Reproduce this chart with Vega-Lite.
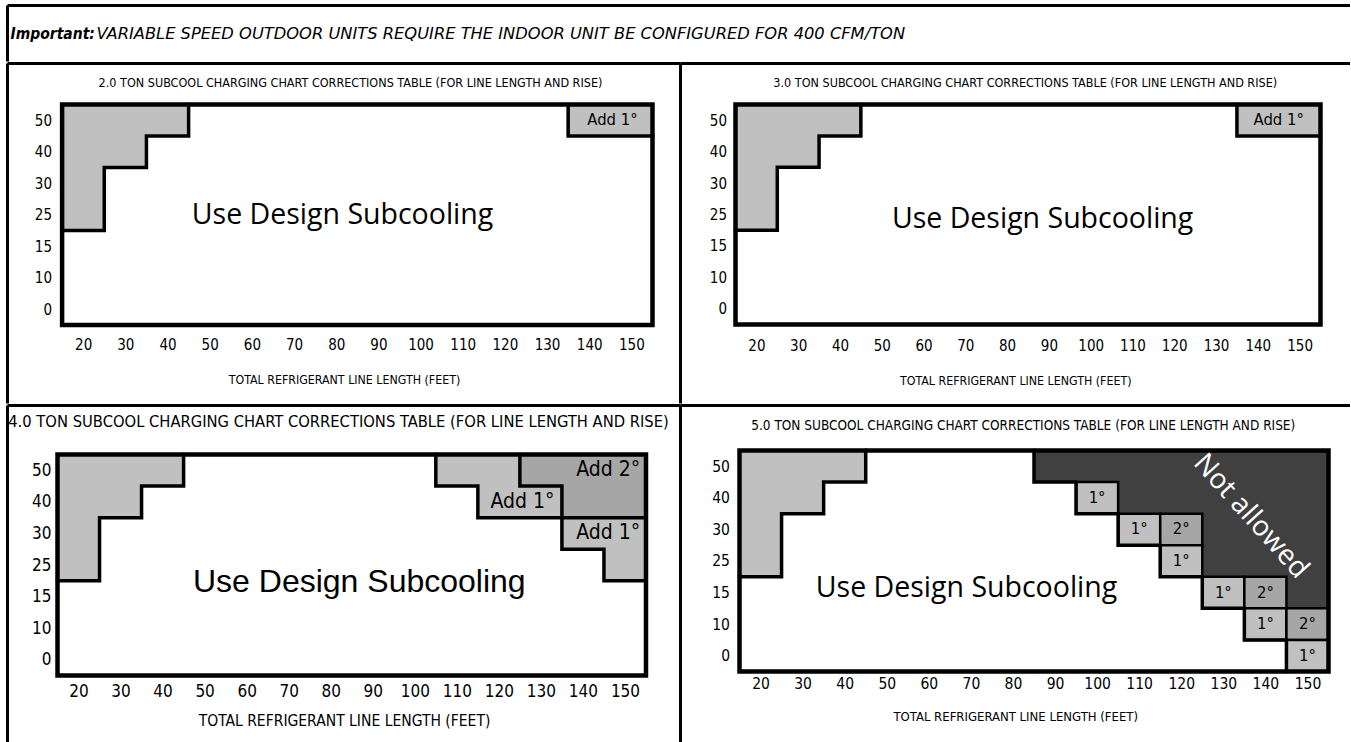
{
  "$schema": "https://vega.github.io/schema/vega-lite/v6.json",
  "padding": {"left": 5.5, "top": 3.5, "right": 0, "bottom": 0},
  "background": "white",
  "spacing": -3,
  "config": {"view": {"stroke": null}},
  "datasets": {
    "header": [{"bold": "Important:", "rest": "VARIABLE SPEED OUTDOOR UNITS REQUIRE THE INDOOR UNIT BE CONFIGURED FOR 400 CFM/TON"}],
    "regions": [
      {"panel": "2.0", "x1": 15, "x2": 45, "y1": 6, "y2": 7, "shade": "light"},
      {"panel": "2.0", "x1": 15, "x2": 35, "y1": 5, "y2": 7, "shade": "light"},
      {"panel": "2.0", "x1": 15, "x2": 25, "y1": 3, "y2": 7, "shade": "light"},
      {"panel": "2.0", "x1": 135, "x2": 155, "y1": 6, "y2": 7, "shade": "light"},
      {"panel": "3.0", "x1": 15, "x2": 45, "y1": 6, "y2": 7, "shade": "light"},
      {"panel": "3.0", "x1": 15, "x2": 35, "y1": 5, "y2": 7, "shade": "light"},
      {"panel": "3.0", "x1": 15, "x2": 25, "y1": 3, "y2": 7, "shade": "light"},
      {"panel": "3.0", "x1": 135, "x2": 155, "y1": 6, "y2": 7, "shade": "light"},
      {"panel": "4.0", "x1": 15, "x2": 45, "y1": 6, "y2": 7, "shade": "light"},
      {"panel": "4.0", "x1": 15, "x2": 35, "y1": 5, "y2": 7, "shade": "light"},
      {"panel": "4.0", "x1": 15, "x2": 25, "y1": 3, "y2": 7, "shade": "light"},
      {"panel": "4.0", "x1": 105, "x2": 155, "y1": 6, "y2": 7, "shade": "light"},
      {"panel": "4.0", "x1": 115, "x2": 155, "y1": 5, "y2": 7, "shade": "light"},
      {"panel": "4.0", "x1": 135, "x2": 155, "y1": 4, "y2": 7, "shade": "light"},
      {"panel": "4.0", "x1": 145, "x2": 155, "y1": 3, "y2": 7, "shade": "light"},
      {"panel": "4.0", "x1": 125, "x2": 155, "y1": 6, "y2": 7, "shade": "medium"},
      {"panel": "4.0", "x1": 135, "x2": 155, "y1": 5, "y2": 7, "shade": "medium"},
      {"panel": "5.0", "x1": 15, "x2": 45, "y1": 6, "y2": 7, "shade": "light"},
      {"panel": "5.0", "x1": 15, "x2": 35, "y1": 5, "y2": 7, "shade": "light"},
      {"panel": "5.0", "x1": 15, "x2": 25, "y1": 3, "y2": 7, "shade": "light"},
      {"panel": "5.0", "x1": 85, "x2": 155, "y1": 6, "y2": 7, "shade": "dark"},
      {"panel": "5.0", "x1": 105, "x2": 155, "y1": 5, "y2": 7, "shade": "dark"},
      {"panel": "5.0", "x1": 125, "x2": 155, "y1": 3, "y2": 7, "shade": "dark"},
      {"panel": "5.0", "x1": 145, "x2": 155, "y1": 2, "y2": 7, "shade": "dark"}
    ],
    "cells": [
      {"len": 100, "rise": "40", "x1": 95, "x2": 105, "y1": 5, "y2": 6, "yc": 5.5, "shade": "light", "label": "1°"},
      {"len": 110, "rise": "30", "x1": 105, "x2": 115, "y1": 4, "y2": 5, "yc": 4.5, "shade": "light", "label": "1°"},
      {"len": 120, "rise": "30", "x1": 115, "x2": 125, "y1": 4, "y2": 5, "yc": 4.5, "shade": "medium", "label": "2°"},
      {"len": 120, "rise": "25", "x1": 115, "x2": 125, "y1": 3, "y2": 4, "yc": 3.5, "shade": "light", "label": "1°"},
      {"len": 130, "rise": "15", "x1": 125, "x2": 135, "y1": 2, "y2": 3, "yc": 2.5, "shade": "light", "label": "1°"},
      {"len": 140, "rise": "15", "x1": 135, "x2": 145, "y1": 2, "y2": 3, "yc": 2.5, "shade": "medium", "label": "2°"},
      {"len": 140, "rise": "10", "x1": 135, "x2": 145, "y1": 1, "y2": 2, "yc": 1.5, "shade": "light", "label": "1°"},
      {"len": 150, "rise": "10", "x1": 145, "x2": 155, "y1": 1, "y2": 2, "yc": 1.5, "shade": "medium", "label": "2°"},
      {"len": 150, "rise": "0", "x1": 145, "x2": 155, "y1": 0, "y2": 1, "yc": 0.5, "shade": "light", "label": "1°"}
    ],
    "edges": [
      {"panel": "2.0", "seg": "a", "i": 0, "x": 15, "y": 3},
      {"panel": "2.0", "seg": "a", "i": 1, "x": 25, "y": 3},
      {"panel": "2.0", "seg": "a", "i": 2, "x": 25, "y": 5},
      {"panel": "2.0", "seg": "a", "i": 3, "x": 35, "y": 5},
      {"panel": "2.0", "seg": "a", "i": 4, "x": 35, "y": 6},
      {"panel": "2.0", "seg": "a", "i": 5, "x": 45, "y": 6},
      {"panel": "2.0", "seg": "a", "i": 6, "x": 45, "y": 7},
      {"panel": "2.0", "seg": "b", "i": 0, "x": 135, "y": 7},
      {"panel": "2.0", "seg": "b", "i": 1, "x": 135, "y": 6},
      {"panel": "2.0", "seg": "b", "i": 2, "x": 155, "y": 6},
      {"panel": "3.0", "seg": "a", "i": 0, "x": 15, "y": 3},
      {"panel": "3.0", "seg": "a", "i": 1, "x": 25, "y": 3},
      {"panel": "3.0", "seg": "a", "i": 2, "x": 25, "y": 5},
      {"panel": "3.0", "seg": "a", "i": 3, "x": 35, "y": 5},
      {"panel": "3.0", "seg": "a", "i": 4, "x": 35, "y": 6},
      {"panel": "3.0", "seg": "a", "i": 5, "x": 45, "y": 6},
      {"panel": "3.0", "seg": "a", "i": 6, "x": 45, "y": 7},
      {"panel": "3.0", "seg": "b", "i": 0, "x": 135, "y": 7},
      {"panel": "3.0", "seg": "b", "i": 1, "x": 135, "y": 6},
      {"panel": "3.0", "seg": "b", "i": 2, "x": 155, "y": 6},
      {"panel": "4.0", "seg": "a", "i": 0, "x": 15, "y": 3},
      {"panel": "4.0", "seg": "a", "i": 1, "x": 25, "y": 3},
      {"panel": "4.0", "seg": "a", "i": 2, "x": 25, "y": 5},
      {"panel": "4.0", "seg": "a", "i": 3, "x": 35, "y": 5},
      {"panel": "4.0", "seg": "a", "i": 4, "x": 35, "y": 6},
      {"panel": "4.0", "seg": "a", "i": 5, "x": 45, "y": 6},
      {"panel": "4.0", "seg": "a", "i": 6, "x": 45, "y": 7},
      {"panel": "4.0", "seg": "b", "i": 0, "x": 105, "y": 7},
      {"panel": "4.0", "seg": "b", "i": 1, "x": 105, "y": 6},
      {"panel": "4.0", "seg": "b", "i": 2, "x": 115, "y": 6},
      {"panel": "4.0", "seg": "b", "i": 3, "x": 115, "y": 5},
      {"panel": "4.0", "seg": "b", "i": 4, "x": 135, "y": 5},
      {"panel": "4.0", "seg": "b", "i": 5, "x": 135, "y": 4},
      {"panel": "4.0", "seg": "b", "i": 6, "x": 145, "y": 4},
      {"panel": "4.0", "seg": "b", "i": 7, "x": 145, "y": 3},
      {"panel": "4.0", "seg": "b", "i": 8, "x": 155, "y": 3},
      {"panel": "4.0", "seg": "c", "i": 0, "x": 125, "y": 7},
      {"panel": "4.0", "seg": "c", "i": 1, "x": 125, "y": 6},
      {"panel": "4.0", "seg": "c", "i": 2, "x": 135, "y": 6},
      {"panel": "4.0", "seg": "c", "i": 3, "x": 135, "y": 5},
      {"panel": "4.0", "seg": "c", "i": 4, "x": 155, "y": 5},
      {"panel": "5.0", "seg": "a", "i": 0, "x": 15, "y": 3},
      {"panel": "5.0", "seg": "a", "i": 1, "x": 25, "y": 3},
      {"panel": "5.0", "seg": "a", "i": 2, "x": 25, "y": 5},
      {"panel": "5.0", "seg": "a", "i": 3, "x": 35, "y": 5},
      {"panel": "5.0", "seg": "a", "i": 4, "x": 35, "y": 6},
      {"panel": "5.0", "seg": "a", "i": 5, "x": 45, "y": 6},
      {"panel": "5.0", "seg": "a", "i": 6, "x": 45, "y": 7},
      {"panel": "5.0", "seg": "b", "i": 0, "x": 85, "y": 7},
      {"panel": "5.0", "seg": "b", "i": 1, "x": 85, "y": 6},
      {"panel": "5.0", "seg": "b", "i": 2, "x": 95, "y": 6},
      {"panel": "5.0", "seg": "b", "i": 3, "x": 95, "y": 5},
      {"panel": "5.0", "seg": "b", "i": 4, "x": 105, "y": 5},
      {"panel": "5.0", "seg": "b", "i": 5, "x": 105, "y": 4},
      {"panel": "5.0", "seg": "b", "i": 6, "x": 115, "y": 4},
      {"panel": "5.0", "seg": "b", "i": 7, "x": 115, "y": 3},
      {"panel": "5.0", "seg": "b", "i": 8, "x": 125, "y": 3},
      {"panel": "5.0", "seg": "b", "i": 9, "x": 125, "y": 2},
      {"panel": "5.0", "seg": "b", "i": 10, "x": 135, "y": 2},
      {"panel": "5.0", "seg": "b", "i": 11, "x": 135, "y": 1},
      {"panel": "5.0", "seg": "b", "i": 12, "x": 145, "y": 1},
      {"panel": "5.0", "seg": "b", "i": 13, "x": 145, "y": 0}
    ],
    "notes": [
      {"panel": "2.0", "x": 145.5, "y": 6.5, "note": "Add 1°"},
      {"panel": "3.0", "x": 145, "y": 6.5, "note": "Add 1°"},
      {"panel": "4.0", "x": 146, "y": 6.5, "note": "Add 2°"},
      {"panel": "4.0", "x": 125.6, "y": 5.5, "note": "Add 1°"},
      {"panel": "4.0", "x": 146, "y": 4.5, "note": "Add 1°"}
    ],
    "captions": [
      {"panel": "2.0", "x": 81.5, "y": 3.48, "caption": "Use Design Subcooling"},
      {"panel": "3.0", "x": 88.5, "y": 3.35, "caption": "Use Design Subcooling"},
      {"panel": "4.0", "x": 86.8, "y": 2.95, "caption": "Use Design Subcooling"},
      {"panel": "5.0", "x": 68.96, "y": 2.66, "caption": "Use Design Subcooling"},
      {"panel": "5.0", "x": 136.5, "y": 4.91, "caption": "Not allowed"}
    ]
  },
  "vconcat": [
    {
      "width": 1342.5,
      "height": 56,
      "data": {"name": "header"},
      "layer": [
        {"mark": {"type": "rule", "stroke": "black", "strokeWidth": 3}, "encoding": {"y": {"datum": 1, "type": "quantitative", "scale": {"domain": [0, 1], "nice": false, "zero": false}, "axis": null}}},
        {"mark": {"type": "rule", "stroke": "black", "strokeWidth": 3}, "encoding": {"x": {"datum": 0, "type": "quantitative", "scale": {"domain": [0, 1], "nice": false, "zero": false}, "axis": null}}},
        {"mark": {"type": "text", "align": "left", "baseline": "middle", "font": "'DejaVu Sans Condensed', 'DejaVu Sans', sans-serif", "fontSize": 15.5, "fontStyle": "italic", "fontWeight": "bold", "dx": 3, "color": "black"},
         "encoding": {"x": {"datum": 0, "type": "quantitative", "axis": null}, "y": {"datum": 0.5, "type": "quantitative", "axis": null}, "text": {"field": "bold"}}},
        {"mark": {"type": "text", "align": "left", "baseline": "middle", "font": "DejaVu Sans", "fontSize": 16.3, "fontStyle": "italic", "fontWeight": "normal", "dx": 89, "color": "black"},
         "encoding": {"x": {"datum": 0, "type": "quantitative", "axis": null}, "y": {"datum": 0.5, "type": "quantitative", "axis": null}, "text": {"field": "rest"}}}
      ]
    },
    {
      "spacing": 0,
      "bounds": "flush",
      "hconcat": [
        {
          "width": 673,
          "height": 340,
          "title": {"text": "2.0 TON SUBCOOL CHARGING CHART CORRECTIONS TABLE (FOR LINE LENGTH AND RISE)", "offset": -33.5, "baseline": "middle", "anchor": "middle", "dx": 6.5, "font": "'Liberation Sans Narrow', 'DejaVu Sans Condensed', sans-serif", "fontSize": 12.5, "fontWeight": "normal", "color": "black"},
          "layer": [
            {
              "data": {"name": "regions"},
              "transform": [{"filter": "datum.panel === '2.0'"}],
              "mark": {"type": "rect"},
              "encoding": {
                "x": {"field": "x1", "type": "quantitative", "scale": {"domain": [2.053, 161.64], "nice": false, "zero": false},
                  "axis": {"values": [20, 30, 40, 50, 60, 70, 80, 90, 100, 110, 120, 130, 140, 150], "format": "d", "offset": -59, "domain": false, "ticks": false, "grid": false, "labelPadding": 0, "labelBaseline": "middle", "labelFont": "'Liberation Sans Narrow', 'DejaVu Sans Condensed', sans-serif", "labelFontSize": 15, "labelColor": "black", "labelOverlap": false, "labelFlush": false, "labelBound": false, "title": "TOTAL REFRIGERANT LINE LENGTH (FEET)", "titleFont": "'Liberation Sans Narrow', 'DejaVu Sans Condensed', sans-serif", "titleFontSize": 12.3, "titleFontWeight": "normal", "titleColor": "black", "titlePadding": 20.5}},
                "x2": {"field": "x2"},
                "y": {"field": "y1", "type": "quantitative", "scale": {"domain": [-2.492, 8.302], "nice": false, "zero": false},
                  "axis": {"values": [0.5, 1.5, 2.5, 3.5, 4.5, 5.5, 6.5], "labelExpr": "['0','10','15','25','30','40','50'][floor(datum.value)]", "offset": -44, "domain": false, "ticks": false, "grid": false, "labelPadding": 0, "labelAlign": "right", "labelBaseline": "middle", "labelFont": "'Liberation Sans Narrow', 'DejaVu Sans Condensed', sans-serif", "labelFontSize": 15, "labelColor": "black", "labelOverlap": false, "labelFlush": false, "labelBound": false, "title": ""}},
                "y2": {"field": "y2"},
                "fill": {"field": "shade", "type": "nominal", "scale": {"domain": ["light", "medium", "dark"], "range": ["#c0c0c0", "#a6a6a6", "#404040"]}, "legend": null}
              }
            },
            {
              "data": {"name": "edges"},
              "transform": [{"filter": "datum.panel === '2.0'"}],
              "mark": {"type": "line", "stroke": "black", "strokeWidth": 3.5, "strokeJoin": "miter", "strokeCap": "square"},
              "encoding": {"x": {"field": "x", "type": "quantitative"}, "y": {"field": "y", "type": "quantitative"}, "detail": {"field": "seg", "type": "nominal"}, "order": {"field": "i", "type": "quantitative"}}
            },
            {
              "data": {"values": [{}]},
              "mark": {"type": "rect", "filled": false, "stroke": "black", "strokeWidth": 4.5},
              "encoding": {"x": {"datum": 15, "type": "quantitative"}, "x2": {"datum": 155}, "y": {"datum": 0, "type": "quantitative"}, "y2": {"datum": 7}}
            },
            {
              "data": {"name": "notes"},
              "transform": [{"filter": "datum.panel === '2.0'"}],
              "mark": {"type": "text", "font": "'Liberation Sans Narrow', 'DejaVu Sans Condensed', sans-serif", "fontSize": 16.5, "color": "black", "baseline": "middle"},
              "encoding": {"x": {"field": "x", "type": "quantitative"}, "y": {"field": "y", "type": "quantitative"}, "text": {"field": "note"}}
            },
            {
              "data": {"name": "captions"},
              "transform": [{"filter": "datum.panel === '2.0'"}],
              "mark": {"type": "text", "font": "Open Sans", "fontSize": 28.5, "color": "black", "baseline": "middle"},
              "encoding": {"x": {"field": "x", "type": "quantitative"}, "y": {"field": "y", "type": "quantitative"}, "text": {"field": "caption"}}
            },
            {
              "data": {"values": [{}]},
              "mark": {"type": "rule", "stroke": "black", "strokeWidth": 3},
              "encoding": {"x": {"datum": 2.053, "type": "quantitative"}}
            },
            {
              "data": {"values": [{}]},
              "mark": {"type": "rule", "stroke": "black", "strokeWidth": 3},
              "encoding": {"y": {"datum": 8.302, "type": "quantitative"}}
            }
          ]
        },
        {
          "width": 669.5,
          "height": 340,
          "title": {"text": "3.0 TON SUBCOOL CHARGING CHART CORRECTIONS TABLE (FOR LINE LENGTH AND RISE)", "offset": -33.5, "baseline": "middle", "anchor": "middle", "dx": 10, "font": "'Liberation Sans Narrow', 'DejaVu Sans Condensed', sans-serif", "fontSize": 12.5, "fontWeight": "normal", "color": "black"},
          "layer": [
            {
              "data": {"name": "regions"},
              "transform": [{"filter": "datum.panel === '3.0'"}],
              "mark": {"type": "rect"},
              "encoding": {
                "x": {"field": "x1", "type": "quantitative", "scale": {"domain": [1.838, 162.06], "nice": false, "zero": false},
                  "axis": {"values": [20, 30, 40, 50, 60, 70, 80, 90, 100, 110, 120, 130, 140, 150], "format": "d", "offset": -58, "domain": false, "ticks": false, "grid": false, "labelPadding": 0, "labelBaseline": "middle", "labelFont": "'Liberation Sans Narrow', 'DejaVu Sans Condensed', sans-serif", "labelFontSize": 15, "labelColor": "black", "labelOverlap": false, "labelFlush": false, "labelBound": false, "title": "TOTAL REFRIGERANT LINE LENGTH (FEET)", "titleFont": "'Liberation Sans Narrow', 'DejaVu Sans Condensed', sans-serif", "titleFontSize": 12.3, "titleFontWeight": "normal", "titleColor": "black", "titlePadding": 20.5}},
                "x2": {"field": "x2"},
                "y": {"field": "y1", "type": "quantitative", "scale": {"domain": [-2.513, 8.304], "nice": false, "zero": false},
                  "axis": {"values": [0.5, 1.5, 2.5, 3.5, 4.5, 5.5, 6.5], "labelExpr": "['0','10','15','25','30','40','50'][floor(datum.value)]", "offset": -46, "domain": false, "ticks": false, "grid": false, "labelPadding": 0, "labelAlign": "right", "labelBaseline": "middle", "labelFont": "'Liberation Sans Narrow', 'DejaVu Sans Condensed', sans-serif", "labelFontSize": 15, "labelColor": "black", "labelOverlap": false, "labelFlush": false, "labelBound": false, "title": ""}},
                "y2": {"field": "y2"},
                "fill": {"field": "shade", "type": "nominal", "scale": {"domain": ["light", "medium", "dark"], "range": ["#c0c0c0", "#a6a6a6", "#404040"]}, "legend": null}
              }
            },
            {
              "data": {"name": "edges"},
              "transform": [{"filter": "datum.panel === '3.0'"}],
              "mark": {"type": "line", "stroke": "black", "strokeWidth": 3.5, "strokeJoin": "miter", "strokeCap": "square"},
              "encoding": {"x": {"field": "x", "type": "quantitative"}, "y": {"field": "y", "type": "quantitative"}, "detail": {"field": "seg", "type": "nominal"}, "order": {"field": "i", "type": "quantitative"}}
            },
            {
              "data": {"values": [{}]},
              "mark": {"type": "rect", "filled": false, "stroke": "black", "strokeWidth": 4.5},
              "encoding": {"x": {"datum": 15, "type": "quantitative"}, "x2": {"datum": 155}, "y": {"datum": 0, "type": "quantitative"}, "y2": {"datum": 7}}
            },
            {
              "data": {"name": "notes"},
              "transform": [{"filter": "datum.panel === '3.0'"}],
              "mark": {"type": "text", "font": "'Liberation Sans Narrow', 'DejaVu Sans Condensed', sans-serif", "fontSize": 16.5, "color": "black", "baseline": "middle"},
              "encoding": {"x": {"field": "x", "type": "quantitative"}, "y": {"field": "y", "type": "quantitative"}, "text": {"field": "note"}}
            },
            {
              "data": {"name": "captions"},
              "transform": [{"filter": "datum.panel === '3.0'"}],
              "mark": {"type": "text", "font": "Open Sans", "fontSize": 28.5, "color": "black", "baseline": "middle"},
              "encoding": {"x": {"field": "x", "type": "quantitative"}, "y": {"field": "y", "type": "quantitative"}, "text": {"field": "caption"}}
            },
            {
              "data": {"values": [{}]},
              "mark": {"type": "rule", "stroke": "black", "strokeWidth": 3},
              "encoding": {"x": {"datum": 1.838, "type": "quantitative"}}
            },
            {
              "data": {"values": [{}]},
              "mark": {"type": "rule", "stroke": "black", "strokeWidth": 3},
              "encoding": {"y": {"datum": 8.304, "type": "quantitative"}}
            }
          ]
        }
      ]
    },
    {
      "spacing": 0,
      "bounds": "flush",
      "hconcat": [
        {
          "width": 673,
          "height": 339.5,
          "title": {"text": "4.0 TON SUBCOOL CHARGING CHART CORRECTIONS TABLE (FOR LINE LENGTH AND RISE)", "offset": -34.5, "baseline": "middle", "anchor": "middle", "dx": -5.5, "font": "'Liberation Sans Narrow', 'DejaVu Sans Condensed', sans-serif", "fontSize": 16.4, "fontWeight": "normal", "color": "black"},
          "layer": [
            {
              "data": {"name": "regions"},
              "transform": [{"filter": "datum.panel === '4.0'"}],
              "mark": {"type": "rect"},
              "encoding": {
                "x": {"field": "x1", "type": "quantitative", "scale": {"domain": [3.105, 163.21], "nice": false, "zero": false},
                  "axis": {"values": [20, 30, 40, 50, 60, 70, 80, 90, 100, 110, 120, 130, 140, 150], "format": "d", "offset": -53.5, "domain": false, "ticks": false, "grid": false, "labelPadding": 0, "labelBaseline": "middle", "labelFont": "'Liberation Sans Narrow', 'DejaVu Sans Condensed', sans-serif", "labelFontSize": 17, "labelColor": "black", "labelOverlap": false, "labelFlush": false, "labelBound": false, "title": "TOTAL REFRIGERANT LINE LENGTH (FEET)", "titleFont": "'Liberation Sans Narrow', 'DejaVu Sans Condensed', sans-serif", "titleFontSize": 15.5, "titleFontWeight": "normal", "titleColor": "black", "titlePadding": 14}},
                "x2": {"field": "x2"},
                "y": {"field": "y1", "type": "quantitative", "scale": {"domain": [-2.201, 8.552], "nice": false, "zero": false},
                  "axis": {"values": [0.5, 1.5, 2.5, 3.5, 4.5, 5.5, 6.5], "labelExpr": "['0','10','15','25','30','40','50'][floor(datum.value)]", "offset": -43.5, "domain": false, "ticks": false, "grid": false, "labelPadding": 0, "labelAlign": "right", "labelBaseline": "middle", "labelFont": "'Liberation Sans Narrow', 'DejaVu Sans Condensed', sans-serif", "labelFontSize": 17, "labelColor": "black", "labelOverlap": false, "labelFlush": false, "labelBound": false, "title": ""}},
                "y2": {"field": "y2"},
                "fill": {"field": "shade", "type": "nominal", "scale": {"domain": ["light", "medium", "dark"], "range": ["#c0c0c0", "#a0a0a0", "#404040"]}, "legend": null}
              }
            },
            {
              "data": {"name": "edges"},
              "transform": [{"filter": "datum.panel === '4.0'"}],
              "mark": {"type": "line", "stroke": "black", "strokeWidth": 3.5, "strokeJoin": "miter", "strokeCap": "square"},
              "encoding": {"x": {"field": "x", "type": "quantitative"}, "y": {"field": "y", "type": "quantitative"}, "detail": {"field": "seg", "type": "nominal"}, "order": {"field": "i", "type": "quantitative"}}
            },
            {
              "data": {"values": [{}]},
              "mark": {"type": "rect", "filled": false, "stroke": "black", "strokeWidth": 4.5},
              "encoding": {"x": {"datum": 15, "type": "quantitative"}, "x2": {"datum": 155}, "y": {"datum": 0, "type": "quantitative"}, "y2": {"datum": 7}}
            },
            {
              "data": {"name": "notes"},
              "transform": [{"filter": "datum.panel === '4.0'"}],
              "mark": {"type": "text", "font": "'Liberation Sans Narrow', 'DejaVu Sans Condensed', sans-serif", "fontSize": 21, "color": "black", "baseline": "middle"},
              "encoding": {"x": {"field": "x", "type": "quantitative"}, "y": {"field": "y", "type": "quantitative"}, "text": {"field": "note"}}
            },
            {
              "data": {"name": "captions"},
              "transform": [{"filter": "datum.panel === '4.0'"}],
              "mark": {"type": "text", "font": "Liberation Sans", "fontSize": 32, "color": "black", "baseline": "middle"},
              "encoding": {"x": {"field": "x", "type": "quantitative"}, "y": {"field": "y", "type": "quantitative"}, "text": {"field": "caption"}}
            },
            {
              "data": {"values": [{}]},
              "mark": {"type": "rule", "stroke": "black", "strokeWidth": 3},
              "encoding": {"x": {"datum": 3.105, "type": "quantitative"}}
            },
            {
              "data": {"values": [{}]},
              "mark": {"type": "rule", "stroke": "black", "strokeWidth": 3},
              "encoding": {"y": {"datum": 8.552, "type": "quantitative"}}
            }
          ]
        },
        {
          "width": 669.5,
          "height": 339.5,
          "title": {"text": "5.0 TON SUBCOOL CHARGING CHART CORRECTIONS TABLE (FOR LINE LENGTH AND RISE)", "offset": -35.5, "baseline": "middle", "anchor": "middle", "dx": 8, "font": "'Liberation Sans Narrow', 'DejaVu Sans Condensed', sans-serif", "fontSize": 13.5, "fontWeight": "normal", "color": "black"},
          "layer": [
            {
              "data": {"name": "regions"},
              "transform": [{"filter": "datum.panel === '5.0'"}],
              "mark": {"type": "rect"},
              "encoding": {
                "x": {"field": "x1", "type": "quantitative", "scale": {"domain": [0.976, 160.11], "nice": false, "zero": false},
                  "axis": {"values": [20, 30, 40, 50, 60, 70, 80, 90, 100, 110, 120, 130, 140, 150], "format": "d", "offset": -61.5, "domain": false, "ticks": false, "grid": false, "labelPadding": 0, "labelBaseline": "middle", "labelFont": "'Liberation Sans Narrow', 'DejaVu Sans Condensed', sans-serif", "labelFontSize": 15.5, "labelColor": "black", "labelOverlap": false, "labelFlush": false, "labelBound": false, "title": "TOTAL REFRIGERANT LINE LENGTH (FEET)", "titleFont": "'Liberation Sans Narrow', 'DejaVu Sans Condensed', sans-serif", "titleFontSize": 13, "titleFontWeight": "normal", "titleColor": "black", "titlePadding": 18}},
                "x2": {"field": "x2"},
                "y": {"field": "y1", "type": "quantitative", "scale": {"domain": [-2.328, 8.425], "nice": false, "zero": false},
                  "axis": {"values": [0.5, 1.5, 2.5, 3.5, 4.5, 5.5, 6.5], "labelExpr": "['0','10','15','25','30','40','50'][floor(datum.value)]", "offset": -49, "domain": false, "ticks": false, "grid": false, "labelPadding": 0, "labelAlign": "right", "labelBaseline": "middle", "labelFont": "'Liberation Sans Narrow', 'DejaVu Sans Condensed', sans-serif", "labelFontSize": 15.5, "labelColor": "black", "labelOverlap": false, "labelFlush": false, "labelBound": false, "title": ""}},
                "y2": {"field": "y2"},
                "fill": {"field": "shade", "type": "nominal", "scale": {"domain": ["light", "medium", "dark"], "range": ["#c0c0c0", "#a6a6a6", "#404040"]}, "legend": null}
              }
            },
            {
              "data": {"name": "cells"},
              "mark": {"type": "rect", "stroke": "black", "strokeWidth": 2.5},
              "encoding": {
                "x": {"field": "x1", "type": "quantitative"},
                "x2": {"field": "x2"},
                "y": {"field": "y1", "type": "quantitative"},
                "y2": {"field": "y2"},
                "fill": {"field": "shade", "type": "nominal", "legend": null}
              }
            },
            {
              "data": {"name": "cells"},
              "mark": {"type": "text", "font": "'Liberation Sans Narrow', 'DejaVu Sans Condensed', sans-serif", "fontSize": 16.5, "color": "black", "baseline": "middle"},
              "encoding": {"x": {"field": "len", "type": "quantitative"}, "y": {"field": "yc", "type": "quantitative"}, "text": {"field": "label"}}
            },
            {
              "data": {"name": "edges"},
              "transform": [{"filter": "datum.panel === '5.0'"}],
              "mark": {"type": "line", "stroke": "black", "strokeWidth": 3.5, "strokeJoin": "miter", "strokeCap": "square"},
              "encoding": {"x": {"field": "x", "type": "quantitative"}, "y": {"field": "y", "type": "quantitative"}, "detail": {"field": "seg", "type": "nominal"}, "order": {"field": "i", "type": "quantitative"}}
            },
            {
              "data": {"values": [{}]},
              "mark": {"type": "rect", "filled": false, "stroke": "black", "strokeWidth": 4.5},
              "encoding": {"x": {"datum": 15, "type": "quantitative"}, "x2": {"datum": 155}, "y": {"datum": 0, "type": "quantitative"}, "y2": {"datum": 7}}
            },
            {
              "data": {"name": "captions"},
              "transform": [{"filter": "datum.panel === '5.0' && datum.caption === 'Use Design Subcooling'"}],
              "mark": {"type": "text", "font": "Open Sans", "fontSize": 28.5, "color": "black", "baseline": "middle"},
              "encoding": {"x": {"field": "x", "type": "quantitative"}, "y": {"field": "y", "type": "quantitative"}, "text": {"field": "caption"}}
            },
            {
              "data": {"name": "captions"},
              "transform": [{"filter": "datum.panel === '5.0' && datum.caption === 'Not allowed'"}],
              "mark": {"type": "text", "font": "Open Sans", "fontSize": 28, "color": "white", "baseline": "middle", "angle": 48},
              "encoding": {"x": {"field": "x", "type": "quantitative"}, "y": {"field": "y", "type": "quantitative"}, "text": {"field": "caption"}}
            },
            {
              "data": {"values": [{}]},
              "mark": {"type": "rule", "stroke": "black", "strokeWidth": 3},
              "encoding": {"x": {"datum": 0.976, "type": "quantitative"}}
            },
            {
              "data": {"values": [{}]},
              "mark": {"type": "rule", "stroke": "black", "strokeWidth": 3},
              "encoding": {"y": {"datum": 8.425, "type": "quantitative"}}
            }
          ]
        }
      ]
    }
  ]
}
